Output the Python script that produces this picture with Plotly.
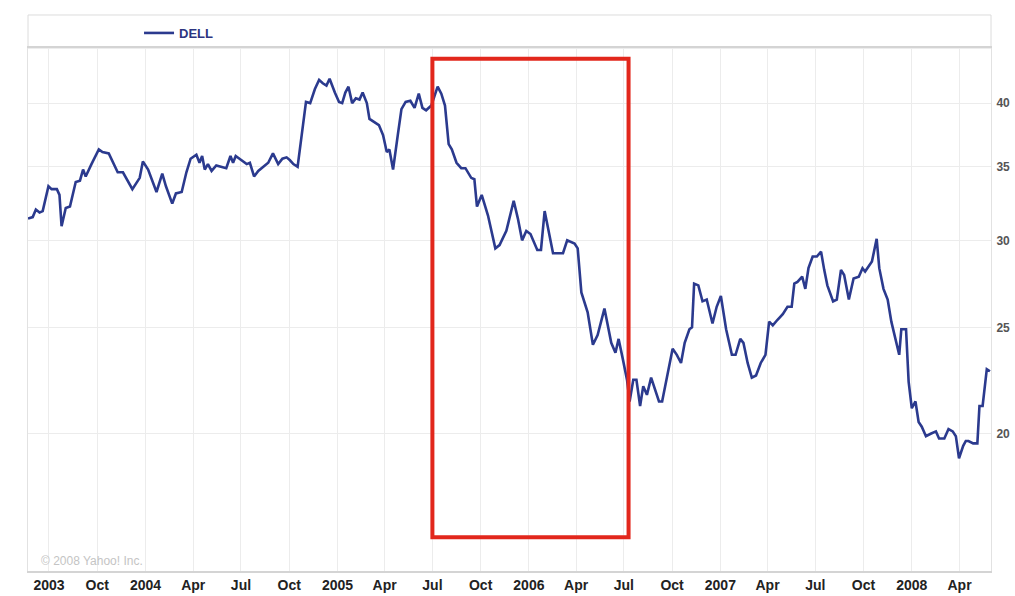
import math
import plotly.graph_objects as go

# ---- data (DELL weekly close, log scale) ----
dates = [
    "2003-05-22", "2003-05-31", "2003-06-06", "2003-06-13", "2003-06-19", "2003-06-30",
    "2003-07-06", "2003-07-16", "2003-07-21", "2003-07-25", "2003-08-02", "2003-08-10",
    "2003-08-21", "2003-08-29", "2003-09-04", "2003-09-09", "2003-09-20", "2003-10-04",
    "2003-10-11", "2003-10-23", "2003-11-09", "2003-11-19", "2003-12-07", "2003-12-21",
    "2003-12-27", "2004-01-06", "2004-01-22",
    "2004-02-02", "2004-02-09", "2004-02-21", "2004-02-28", "2004-03-10", "2004-03-19",
    "2004-03-27", "2004-04-07", "2004-04-13", "2004-04-18", "2004-04-23", "2004-04-29",
    "2004-05-06", "2004-05-15", "2004-05-25", "2004-06-03", "2004-06-11", "2004-06-16",
    "2004-06-21", "2004-06-28", "2004-07-05", "2004-07-12", "2004-07-18", "2004-07-26",
    "2004-08-03", "2004-08-16", "2004-08-22", "2004-08-31", "2004-09-10", "2004-09-18",
    "2004-09-26",
    "2004-10-02", "2004-10-09", "2004-10-17", "2004-10-25", "2004-11-02", "2004-11-10",
    "2004-11-19", "2004-11-27", "2004-12-04", "2004-12-11", "2004-12-17", "2004-12-27",
    "2005-01-04", "2005-01-10", "2005-01-16", "2005-01-22", "2005-01-29", "2005-02-05",
    "2005-02-12", "2005-02-18", "2005-02-26", "2005-03-03", "2005-03-10", "2005-03-21",
    "2005-03-29", "2005-04-05", "2005-04-10", "2005-04-17", "2005-04-26", "2005-05-03",
    "2005-05-11", "2005-05-20", "2005-05-28", "2005-06-05", "2005-06-12", "2005-06-19",
    "2005-06-29",
    "2005-07-11", "2005-07-18", "2005-07-25", "2005-08-01", "2005-08-07", "2005-08-16",
    "2005-08-25", "2005-09-02", "2005-09-07", "2005-09-13", "2005-09-19", "2005-09-24",
    "2005-10-03", "2005-10-15", "2005-10-29", "2005-11-06", "2005-11-19", "2005-12-03",
    "2005-12-11", "2005-12-19", "2005-12-27", "2006-01-04", "2006-01-17", "2006-01-24",
    "2006-01-31", "2006-02-16", "2006-03-07", "2006-03-15", "2006-03-29", "2006-04-04",
    "2006-04-11", "2006-04-23", "2006-05-03", "2006-05-12", "2006-05-25", "2006-06-07",
    "2006-06-15", "2006-06-21", "2006-06-29", "2006-07-07", "2006-07-12",
    "2006-07-19", "2006-07-25", "2006-08-01", "2006-08-07", "2006-08-14", "2006-08-22",
    "2006-08-31", "2006-09-06", "2006-09-12", "2006-09-23", "2006-10-02", "2006-10-10",
    "2006-10-18", "2006-10-25", "2006-11-03", "2006-11-08", "2006-11-12", "2006-11-20",
    "2006-11-28", "2006-12-06", "2006-12-17", "2006-12-25", "2007-01-02", "2007-01-12",
    "2007-01-23", "2007-01-30", "2007-02-08", "2007-02-14", "2007-02-22", "2007-03-02",
    "2007-03-10", "2007-03-19", "2007-03-28", "2007-04-04", "2007-04-11", "2007-04-20",
    "2007-04-30", "2007-05-09", "2007-05-17",
    "2007-05-22", "2007-05-28", "2007-06-06", "2007-06-12", "2007-06-18", "2007-06-26",
    "2007-07-04", "2007-07-12", "2007-07-18", "2007-07-24", "2007-08-04", "2007-08-11",
    "2007-08-19", "2007-08-25", "2007-09-03", "2007-09-12", "2007-09-22", "2007-09-29",
    "2007-10-04", "2007-10-12", "2007-10-17", "2007-10-26", "2007-10-31", "2007-11-08",
    "2007-11-16", "2007-11-23", "2007-12-01", "2007-12-08", "2007-12-12", "2007-12-21",
    "2007-12-26", "2008-01-01", "2008-01-08", "2008-01-14", "2008-01-20", "2008-01-28",
    "2008-02-06", "2008-02-16", "2008-02-22", "2008-03-03", "2008-03-11", "2008-03-19",
    "2008-03-25", "2008-03-31", "2008-04-08", "2008-04-13", "2008-04-18", "2008-04-27",
    "2008-05-05", "2008-05-09", "2008-05-15", "2008-05-23", "2008-05-29",
]

dell_close = [
    31.4, 31.5, 32.0, 31.8, 31.9, 33.6,
    33.4, 33.4, 33.0, 30.9, 32.1, 32.2,
    33.9, 34.0, 34.8, 34.3, 35.2, 36.3,
    36.1, 36.0, 34.6, 34.6, 33.4, 34.2,
    35.4, 34.8, 33.2,
    34.5, 33.6, 32.4, 33.1, 33.2, 34.6,
    35.6, 35.9, 35.3, 35.8, 34.8, 35.2,
    34.7, 35.1, 35.0, 34.9, 35.8, 35.3,
    35.8, 35.6, 35.4, 35.2, 35.3, 34.3,
    34.7, 35.1, 35.3, 36.0, 35.2, 35.6,
    35.7,
    35.5, 35.2, 35.0, 37.6, 40.1, 40.0,
    41.2, 42.0, 41.7, 41.5, 42.1, 40.9,
    40.1, 40.0, 40.9, 41.4, 40.0, 40.4,
    40.3, 40.9, 40.0, 38.7, 38.5, 38.2,
    37.4, 36.1, 36.3, 34.8, 37.4, 39.5,
    40.1, 40.2, 39.6, 40.8, 39.6, 39.4,
    39.8,
    41.4, 40.8, 39.8, 36.7, 36.3, 35.3,
    34.9, 34.9, 34.6, 34.2, 34.1, 32.2,
    33.0, 31.6, 29.5, 29.7, 30.6, 32.6,
    31.4, 30.0, 30.6, 30.4, 29.4, 29.4,
    31.9, 29.2, 29.2, 30.0, 29.8, 29.5,
    26.9, 25.8, 24.1, 24.6, 26.0, 24.2,
    23.7, 24.4, 23.4, 22.4, 21.4,
    22.4, 22.4, 21.2, 22.1, 21.7, 22.5,
    21.8, 21.4, 21.4, 22.8, 23.9, 23.6,
    23.2, 24.2, 24.9, 25.0, 27.4, 27.3,
    26.4, 26.5, 25.2, 26.1, 26.7, 24.9,
    23.6, 23.6, 24.4, 24.2, 23.2, 22.5,
    22.6, 23.2, 23.6, 25.3, 25.1, 25.4,
    25.7, 26.1, 26.1,
    27.4, 27.5, 27.8, 27.1, 28.3, 29.0,
    29.0, 29.3, 28.2, 27.3, 26.4, 26.5,
    28.2, 27.9, 26.5, 27.7, 27.8, 28.3,
    28.1, 28.5, 28.7, 30.1, 28.3, 27.1,
    26.5, 25.3, 24.4, 23.6, 24.9, 24.9,
    22.3, 21.1, 21.4, 20.5, 20.3, 19.9,
    20.0, 20.1, 19.8, 19.8, 20.2, 20.1,
    19.9, 19.0, 19.5, 19.7, 19.7, 19.6,
    19.6, 21.2, 21.2, 22.9, 22.8,
]

series_name = "DELL"

tick_dates = [
    "2003-07-01", "2003-10-01", "2004-01-01", "2004-04-01", "2004-07-01",
    "2004-10-01", "2005-01-01", "2005-04-01", "2005-07-01", "2005-10-01",
    "2006-01-01", "2006-04-01", "2006-07-01", "2006-10-01", "2007-01-01",
    "2007-04-01", "2007-07-01", "2007-10-01", "2008-01-01", "2008-04-01",
]
tick_labels = [
    "2003", "Oct", "2004", "Apr", "Jul", "Oct", "2005", "Apr", "Jul", "Oct",
    "2006", "Apr", "Jul", "Oct", "2007", "Apr", "Jul", "Oct", "2008", "Apr",
]

y_ticks = [20, 25, 30, 35, 40]
x_range = ["2003-05-22", "2008-05-31"]
y_range = [15.0, 44.9]

# highlighted period (red box)
highlight_start = "2005-07-01"
highlight_end = "2006-07-10"
highlight_low = 16.1
highlight_high = 43.9

LINE_COLOR = "#2b3a8e"
GRID_COLOR = "#ececec"

fig = go.Figure()
fig.add_trace(go.Scatter(
    x=dates, y=dell_close, mode="lines", name="<b>" + series_name + "</b>",
    line=dict(color=LINE_COLOR, width=2.6),
    showlegend=True,
))

fig.add_shape(
    type="rect", xref="x", yref="y",
    x0=highlight_start, x1=highlight_end, y0=highlight_low, y1=highlight_high,
    line=dict(color="#e2271c", width=4), fillcolor="rgba(0,0,0,0)", layer="above",
)

# legend band border
fig.add_shape(
    type="rect", xref="paper", yref="paper", x0=0, x1=1, y0=1, y1=1.0631,
    line=dict(color="#dcdcdc", width=1), fillcolor="rgba(0,0,0,0)", layer="below",
)

fig.add_annotation(
    text="© 2008 Yahoo! Inc.", xref="paper", yref="paper", x=0.011, y=0.019,
    xanchor="left", yanchor="middle", showarrow=False,
    font=dict(family="Liberation Sans, Arial", size=12, color="#c4c4c4"),
)

fig.update_layout(
    width=1015, height=596,
    margin=dict(l=28, r=24, t=48, b=25, autoexpand=False),
    paper_bgcolor="white", plot_bgcolor="white",
    legend=dict(
        x=0.1153, y=1.0287, xanchor="left", yanchor="middle",
        orientation="h", bgcolor="rgba(0,0,0,0)", borderwidth=0,
        font=dict(family="Liberation Sans, Arial", size=13, color="#2d3580"),
        itemwidth=30,
    ),
    xaxis=dict(
        type="date", range=x_range,
        tickmode="array", tickvals=tick_dates, ticktext=tick_labels,
        showgrid=True, gridcolor=GRID_COLOR, gridwidth=1,
        showline=True, linecolor="#d4d4d4", linewidth=2, mirror=True,
        ticks="", ticklabelstandoff=0,
        tickfont=dict(family="Liberation Sans, Arial", size=14, color="#222222", weight="bold"),
        zeroline=False, automargin=False,
    ),
    yaxis=dict(
        type="log", range=[math.log10(y_range[0]), math.log10(y_range[1])],
        side="right", tickmode="array", tickvals=y_ticks,
        ticktext=[str(v) for v in y_ticks],
        showgrid=True, gridcolor=GRID_COLOR, gridwidth=1,
        showline=True, linecolor="#e2e2e2", linewidth=1, mirror=True,
        ticks="", ticklabelstandoff=2,
        tickfont=dict(family="Liberation Sans, Arial", size=12, color="#555555", weight="bold"),
        zeroline=False, automargin=False,
    ),
)

fig.write_html(
    "out.html",
    config={"displayModeBar": False},
    post_script="document.body.style.margin='0';document.body.style.overflow='hidden';",
)
